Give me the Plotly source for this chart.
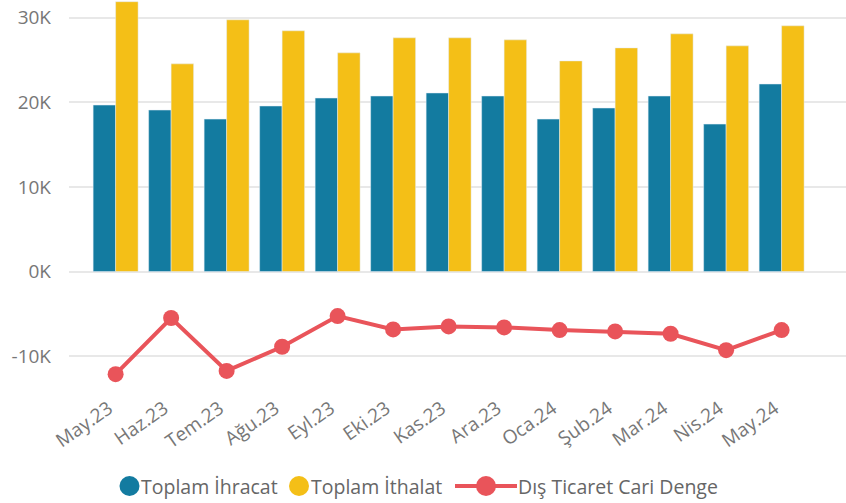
import plotly.graph_objects as go

months = ["May.23", "Haz.23", "Tem.23", "Ağu.23", "Eyl.23", "Eki.23", "Kas.23",
          "Ara.23", "Oca.24", "Şub.24", "Mar.24", "Nis.24", "May.24"]
ihracat = [19680, 19090, 18020, 19570, 20510, 20750, 21110,
           20750, 18020, 19330, 20750, 17430, 22170]
ithalat = [31900, 24550, 29760, 28460, 25850, 27630, 27630,
           27390, 24900, 26440, 28100, 26680, 29050]
denge = [-12130, -5490, -11740, -8890, -5260, -6840, -6480,
         -6600, -6920, -7080, -7350, -9290, -6920]
y_ticks = [-10000, 0, 10000, 20000, 30000]
y_tick_text = ["-10K", "0K", "10K", "20K", "30K"]

BLUE = "#137BA0"
YELLOW = "#F4BF17"
RED = "#E9545A"
FONT = "Open Sans"
TEXT_GRAY = "#666666"

W, H = 846, 503
ML, MR, MT, MB = 69, 0, 0, 113
PW, PH = W - ML - MR, H - MT - MB

x = list(range(len(months)))

fig = go.Figure()
fig.add_trace(go.Bar(x=x, y=ihracat, name="Toplam İhracat", marker_color=BLUE))
fig.add_trace(go.Bar(x=x, y=ithalat, name="Toplam İthalat", marker_color=YELLOW))
fig.add_trace(go.Scatter(x=x, y=denge, mode="lines+markers", name="Dış Ticaret Cari Denge",
                         line=dict(color=RED, width=4),
                         marker=dict(color=RED, size=16), cliponaxis=False))


# pixel -> paper helpers for the hand-built legend row below the plot
def px(v):
    return (v - ML) / PW


def py(v):
    return (H - MB - v) / PH


shapes = []
annotations = []
LEG_Y = 486
R = 10


def legend_dot(cx, color):
    shapes.append(dict(type="circle", xref="paper", yref="paper",
                       x0=px(cx - R), x1=px(cx + R), y0=py(LEG_Y + R), y1=py(LEG_Y - R),
                       fillcolor=color, line=dict(width=0), layer="above"))


def legend_text(left, text):
    annotations.append(dict(x=px(left), y=py(LEG_Y), xref="paper", yref="paper",
                            text=text, showarrow=False, xanchor="left", yanchor="middle",
                            font=dict(family=FONT, size=19.5, color=TEXT_GRAY)))


legend_dot(129.5, BLUE)
legend_text(139, "Toplam İhracat")
legend_dot(299, YELLOW)
legend_text(308.5, "Toplam İthalat")
shapes.append(dict(type="line", xref="paper", yref="paper",
                   x0=px(455), x1=px(517), y0=py(LEG_Y), y1=py(LEG_Y),
                   line=dict(color=RED, width=4)))
legend_dot(486, RED)
legend_text(516, "Dış Ticaret Cari Denge")

fig.update_layout(
    width=W, height=H,
    margin=dict(l=ML, r=MR, t=MT, b=MB),
    paper_bgcolor="white", plot_bgcolor="white",
    barmode="group", bargap=0.19, bargroupgap=0,
    font=dict(family=FONT, color=TEXT_GRAY),
    showlegend=False,
    shapes=shapes,
    annotations=annotations,
)
fig.update_xaxes(
    range=[-0.84, 13.16], tickmode="array", tickvals=x, ticktext=months,
    tickangle=-35, tickfont=dict(size=19, color="#777777"),
    ticklabelshift=-7, ticklabelstandoff=3,
    showgrid=False, zeroline=False, showline=False, ticks="",
)
fig.update_yaxes(
    range=[-14000, 32100], tickmode="array", tickvals=y_ticks, ticktext=y_tick_text,
    tickfont=dict(size=19, color="#777777"),
    showgrid=True, gridcolor="#E8E8E8", gridwidth=2,
    zeroline=False, showline=False, ticks="", ticklabelstandoff=17,
)

fig.write_html("out.html")
